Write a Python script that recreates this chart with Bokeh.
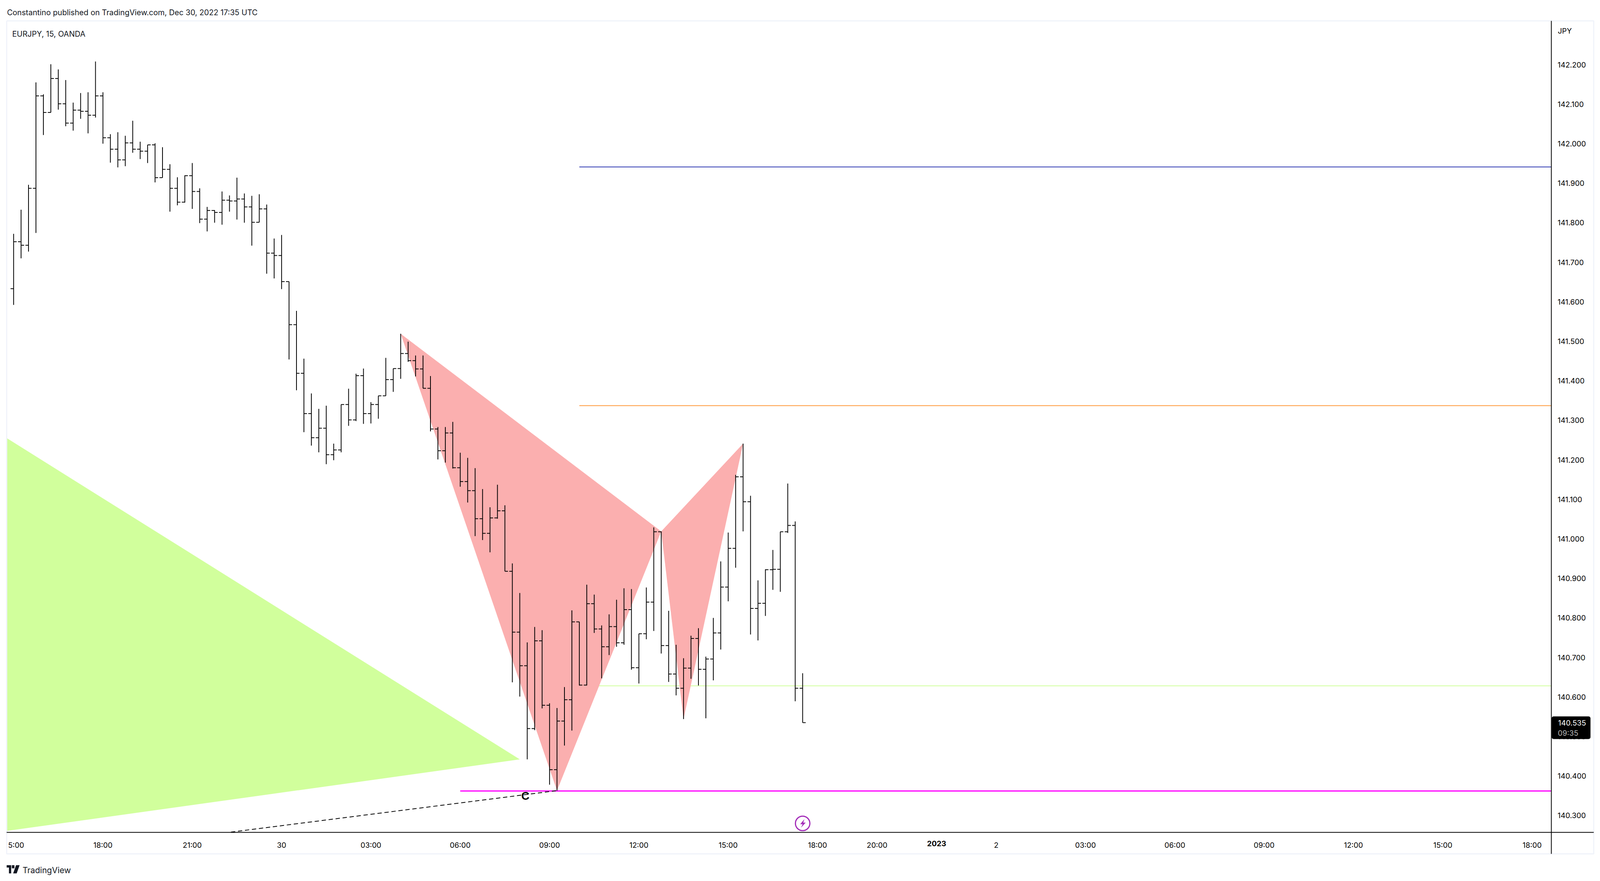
from bokeh.plotting import figure
from bokeh.embed import file_html
from bokeh.resources import INLINE
from bokeh.models import (Range1d, FixedTicker, NumeralTickFormatter, Label, BoxAnnotation,
                          LinearAxis)

highs = [141.772,141.833,141.896,142.155,142.125,142.201,142.188,142.161,142.104,142.128,
         142.130,142.208,142.130,142.024,142.029,142.020,142.058,142.005,141.997,142.001,
         141.991,141.948,141.915,141.920,141.951,141.887,141.840,141.832,141.879,141.869,
         141.914,141.874,141.868,141.872,141.846,141.760,141.769,141.651,141.577,141.456,
         141.368,141.329,141.337,141.241,141.340,141.380,141.418,141.431,141.346,141.362,
         141.458,141.431,141.519,141.499,141.464,141.464,141.412,141.283,141.283,141.296,
         141.218,141.205,141.179,141.126,141.080,141.137,141.085,140.938,140.863,140.738,
         140.777,140.769,140.584,140.572,140.625,140.819,140.790,140.884,140.859,140.781,
         140.809,140.846,140.875,140.873,140.760,140.877,141.029,141.019,140.818,140.732,
         140.698,140.755,140.774,140.702,140.800,140.943,141.016,141.162,141.241,141.109,
         140.895,140.923,140.972,141.018,141.140,141.044,140.660]
lows = [141.592,141.710,141.727,141.774,142.022,142.079,142.086,142.044,142.033,142.063,
        142.026,142.066,142.000,141.952,141.940,141.943,141.977,141.961,141.951,141.902,
        141.914,141.828,141.844,141.851,141.835,141.799,141.778,141.800,141.795,141.828,
        141.808,141.800,141.742,141.801,141.671,141.659,141.632,141.454,141.376,141.270,
        141.236,141.219,141.189,141.199,141.219,141.286,141.298,141.291,141.292,141.304,
        141.362,141.372,141.405,141.448,141.411,141.381,141.272,141.201,141.193,141.178,
        141.132,141.092,141.007,140.997,140.966,141.051,140.918,140.637,140.601,140.442,
        140.516,140.571,140.378,140.363,140.477,140.515,140.629,140.629,140.762,140.647,
        140.706,140.727,140.732,140.669,140.634,140.746,140.767,140.710,140.638,140.604,
        140.544,140.646,140.629,140.546,140.642,140.720,140.842,140.927,141.019,140.758,
        140.743,140.805,140.871,140.866,141.015,140.589,140.535]
closes = [141.752,141.743,141.887,142.121,142.079,142.165,142.101,142.052,142.085,142.082,
          142.072,142.121,142.015,141.986,141.959,142.002,141.986,141.981,141.997,141.914,
          141.935,141.887,141.852,141.919,141.879,141.809,141.831,141.826,141.857,141.855,
          141.860,141.840,141.801,141.835,141.723,141.717,141.651,141.542,141.419,141.317,
          141.256,141.280,141.213,141.225,141.340,141.301,141.413,141.317,141.340,141.362,
          141.403,141.431,141.469,141.451,141.430,141.381,141.278,141.223,141.268,141.180,
          141.145,141.122,141.051,141.014,141.053,141.071,140.918,140.764,140.679,140.520,
          140.742,140.579,140.416,140.539,140.593,140.790,140.630,140.836,140.772,140.727,
          140.778,140.737,140.821,140.674,140.760,140.840,141.018,140.730,140.658,140.622,
          140.673,140.748,140.670,140.696,140.762,140.878,140.976,141.157,141.094,140.824,
          140.837,140.922,140.923,141.018,141.034,140.622,140.535]
first_open = 141.633
opens = [first_open] + closes[:-1]
bars = list(range(len(closes)))

pattern_x = [52, 73, 87]
pattern_y = [141.519, 140.363, 141.019]
pattern2_x = [87, 90, 98]
pattern2_y = [141.019, 140.544, 141.241]
green_x = [-0.93, 68.0, -0.93]
green_y = [141.255, 140.442, 140.261]
level_start = 76
level_prices = [141.941, 141.337, 140.628]
level_colors = ["#2a35b0", "#ff9a3c", "#d1ff9c"]
level_widths = [2, 2, 2]
support_start = 60
support_price = 140.362
dash_x = [29.2, 73]
dash_y = [140.258, 140.363]
price_ticks = [140.3,140.4,140.5,140.6,140.7,140.8,140.9,141.0,141.1,141.2,141.3,141.4,
               141.5,141.6,141.7,141.8,141.9,142.0,142.1,142.2]
time_ticks = {0.33:"5:00",12:"18:00",24:"21:00",36:"30",48:"03:00",60:"06:00",72:"09:00",84:"12:00",
              96:"15:00",108:"18:00",116:"20:00",132:"2",144:"03:00",156:"06:00",168:"09:00",
              180:"12:00",192:"15:00",204:"18:00"}
bold_tick = {124:"2023"}

# The browser window measured 4096 wide, so the 4946-wide layout is fitted to it horizontally.
def X(px):
    return (px - 41.5) / 23.01

def Y(py):
    return 142.2 - (py - 165) / 1012

p = figure(width=4096, height=2256, output_backend="svg", toolbar_location=None,
           x_range=Range1d(X(0), X(4946)), y_range=Range1d(Y(2256), Y(0)),
           y_axis_location="right", min_border=0,
           background_fill_color="white", border_fill_color="white", outline_line_color=None)
p.grid.visible = False

def style(ax):
    ax.axis_line_color = None
    ax.major_tick_line_color = None
    ax.minor_tick_line_color = None
    ax.major_tick_out = 0
    ax.major_tick_in = 0
    ax.major_label_text_color = "#000000"
    ax.major_label_text_font = "Inter"
    ax.major_label_text_font_size = "19px"
    ax.major_label_standoff = 21

p.xaxis[0].fixed_location = Y(2131)
p.yaxis[0].fixed_location = X(4795)
style(p.xaxis[0])
style(p.yaxis[0])
p.yaxis[0].major_label_standoff = 16
p.xaxis[0].ticker = FixedTicker(ticks=list(time_ticks.keys()))
p.xaxis[0].major_label_overrides = time_ticks
p.yaxis[0].ticker = FixedTicker(ticks=price_ticks)
p.yaxis[0].formatter = NumeralTickFormatter(format="0.000")

bold_axis = LinearAxis(fixed_location=Y(2131), ticker=FixedTicker(ticks=list(bold_tick.keys())),
                       major_label_overrides=bold_tick)
style(bold_axis)
bold_axis.major_label_text_font_style = "bold"
p.add_layout(bold_axis, "below")

# overlays below the bars
for price, col, w in zip(level_prices, level_colors, level_widths):
    p.segment(x0=[level_start], x1=[X(4794)], y0=[price], y1=[price], line_color=col, line_width=w)
p.patch(green_x, green_y, fill_color="#d1ff9c", line_color=None)
p.patch(pattern_x, pattern_y, fill_color="#fbafaf", line_color=None)
p.patch(pattern2_x, pattern2_y, fill_color="#fbafaf", line_color=None)
p.segment(x0=[support_start], x1=[X(4794)], y0=[support_price], y1=[support_price],
          line_color="#ff00ff", line_width=3)
p.line(dash_x, dash_y, line_color="#000000", line_width=2, line_dash="11 7")

# OHLC bars
half = 0.41
p.segment(x0=bars, x1=bars, y0=lows, y1=highs, line_color="#000000", line_width=2)
p.segment(x0=[i - half for i in bars], x1=bars, y0=opens, y1=opens, line_color="#000000", line_width=2)
p.segment(x0=bars, x1=[i + half for i in bars], y0=closes, y1=closes, line_color="#000000", line_width=2)

# lightning marker
p.scatter(x=[106], y=[Y(2108)], size=37, marker="circle", fill_color=None,
          line_color="#a32cb8", line_width=3)
p.patch([X(a) for a in (2486, 2473, 2480.5, 2475.4, 2490, 2482.4)],
        [Y(b) for b in (2097, 2110, 2110, 2119, 2106, 2106)],
        fill_color="#a32cb8", line_color=None)

# chart frame and axis rules
p.line([X(a) for a in (20, 4926, 4926, 20, 20)], [Y(b) for b in (53, 53, 2186, 2186, 53)],
       line_color="#f0f3fa", line_width=3)
p.segment(x0=[X(20)], x1=[X(4926)], y0=[Y(2131)], y1=[Y(2131)], line_color="#000000", line_width=2)
p.segment(x0=[X(4795)], x1=[X(4795)], y0=[Y(53)], y1=[Y(2186)], line_color="#000000", line_width=2)

def text(px, py, s, size="19.7px", font="Inter", color="#131722", style="normal", align="left"):
    p.add_layout(Label(x=X(px), y=Y(py), text=s, text_font=font, text_font_size=size,
                       text_color=color, text_font_style=style, text_align=align,
                       text_baseline="middle", level="overlay"))

p.add_layout(BoxAnnotation(left=X(4796), right=X(4916), top=Y(1834), bottom=Y(1892), level="overlay",
                           editable=False, fill_color="#000000", fill_alpha=1, line_color=None,
                           border_radius=5))

text(21, 31, "Constantino published on TradingView.com, Dec 30, 2022 17:35 UTC")
text(37, 86, "EURJPY, 15, OANDA")
text(4815, 79, "JPY", size="19px", color="#000000")
text(4816, 1850, "140.535", size="19px", color="#ffffff")
text(4815, 1877, "09:35", size="19px", color="#b8b8b8")
text(1623.5, 2037, "C", size="29px", font="Liberation Sans", color="#000000", style="bold", align="center")
text(69, 2228, "TradingView", size="21px", color="#131722")

# TradingView logo
for xs, ys in [((20, 34, 34, 27, 27, 20), (2215, 2215, 2236, 2236, 2221, 2221)),
               ((36, 44, 44, 36), (2215, 2215, 2223, 2223)),
               ((49, 60, 51, 40), (2215, 2215, 2236, 2236))]:
    p.patch([X(a) for a in xs], [Y(b) for b in ys], fill_color="#131722", line_color=None)

open("out.html", "w").write(file_html(p, INLINE))
